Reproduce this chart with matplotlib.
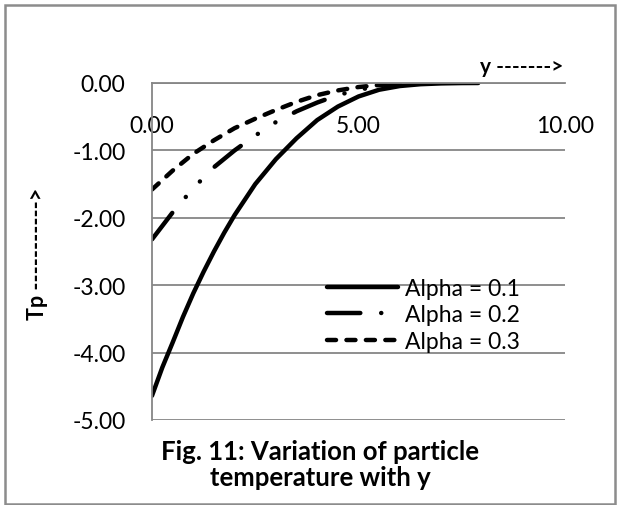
import numpy as np
import matplotlib
matplotlib.use("Agg")
import matplotlib.pyplot as plt
from matplotlib.patches import Rectangle

plt.rcParams['font.family'] = ['Lato', 'DejaVu Sans']
plt.rcParams['axes.unicode_minus'] = False
plt.rcParams['lines.scale_dashes'] = False

# data
y_pos = [0, 0.25, 0.5, 0.75, 1.0, 1.25, 1.5, 1.75, 2.0, 2.5, 3.0, 3.5, 4.0, 4.5, 5.0,
         5.5, 6.0, 6.5, 7.0, 7.5, 7.9]
tp_01 = [-4.64, -4.22, -3.85, -3.47, -3.12, -2.80, -2.50, -2.22, -1.96, -1.50, -1.13,
         -0.82, -0.55, -0.35, -0.20, -0.10, -0.045, -0.018, -0.006, -0.001, 0.0]
y_pos2 = [0, 0.5, 1.0, 1.5, 2.0, 2.5, 3.0, 3.5, 4.0, 4.5, 5.0, 5.5, 6.0]
tp_02 = [-2.32, -1.92, -1.56, -1.25, -1.00, -0.78, -0.58, -0.42, -0.29, -0.18, -0.10, -0.05, -0.02]
tp_03 = [-1.58, -1.30, -1.05, -0.85, -0.67, -0.53, -0.40, -0.28, -0.18, -0.11, -0.06, -0.03, -0.01]

labels = ["Alpha = 0.1", "Alpha = 0.2", "Alpha = 0.3"]
yticks = [0, -1, -2, -3, -4, -5]
xticks = [0, 5, 10]

W, H = 619, 506
fig = plt.figure(figsize=(W / 100, H / 100), dpi=100)
ax = fig.add_axes([152 / W, 1 - 421 / H, 413 / W, 337 / H])

grey = "#868686"
lw = 3.2
ax.plot(y_pos, tp_01, color="black", lw=lw, solid_capstyle="round", label=labels[0])
ax.plot(y_pos2, tp_02, color="black", lw=lw, dash_capstyle="round",
        dashes=(24, 15, 0.1, 15, 0.1, 15), label=labels[1])
ax.plot(y_pos2, tp_03, color="black", lw=lw, dash_capstyle="round",
        dashes=(6.5, 7.5), label=labels[2])

ax.set_xlim(0, 10)
ax.set_ylim(-5, 0)
ax.set_yticks(yticks)
ax.set_xticks(xticks)
ax.yaxis.set_major_formatter(matplotlib.ticker.FormatStrFormatter("%.2f"))
ax.xaxis.set_major_formatter(matplotlib.ticker.FormatStrFormatter("%.2f"))
ax.grid(axis="y", color=grey, lw=1.3)
ax.set_axisbelow(True)
for s in ["top", "right"]:
    ax.spines[s].set_visible(False)
ax.spines["bottom"].set_position(("data", 0))
ax.spines["bottom"].set_color(grey)
ax.spines["bottom"].set_linewidth(1.3)
ax.spines["left"].set_color(grey)
ax.spines["left"].set_linewidth(1.3)
ax.tick_params(axis="x", length=0, pad=23, labelsize=16.5)
ax.tick_params(axis="y", length=0, pad=19, labelsize=16.5)

fig.text(563 / W, 1 - 67 / H, "y ------->", ha="right", va="center",
         fontsize=15, fontweight="bold")
fig.text(37 / W, 1 - 254 / H, "Tp ----------->", rotation=90, ha="center", va="center",
         fontsize=15.5, fontweight="bold")
fig.text(320 / W, 1 - 465 / H, "Fig. 11: Variation of particle\ntemperature with y",
         ha="center", va="center", fontsize=18.5, fontweight="bold", linespacing=1.12)

ax.legend(loc="upper left", bbox_to_anchor=(327 / W, 1 - 279 / H),
          bbox_transform=fig.transFigure, frameon=False, fontsize=16.5,
          handlelength=3.1, handletextpad=0.3, labelspacing=0.24,
          borderpad=0, borderaxespad=0)

fig.patches.append(Rectangle((5 / W, 1 - 505 / H), 610 / W, 499 / H,
                             transform=fig.transFigure, fill=False,
                             edgecolor="#8c8c8c", lw=1.8))

fig.savefig("out.png", dpi=100)
